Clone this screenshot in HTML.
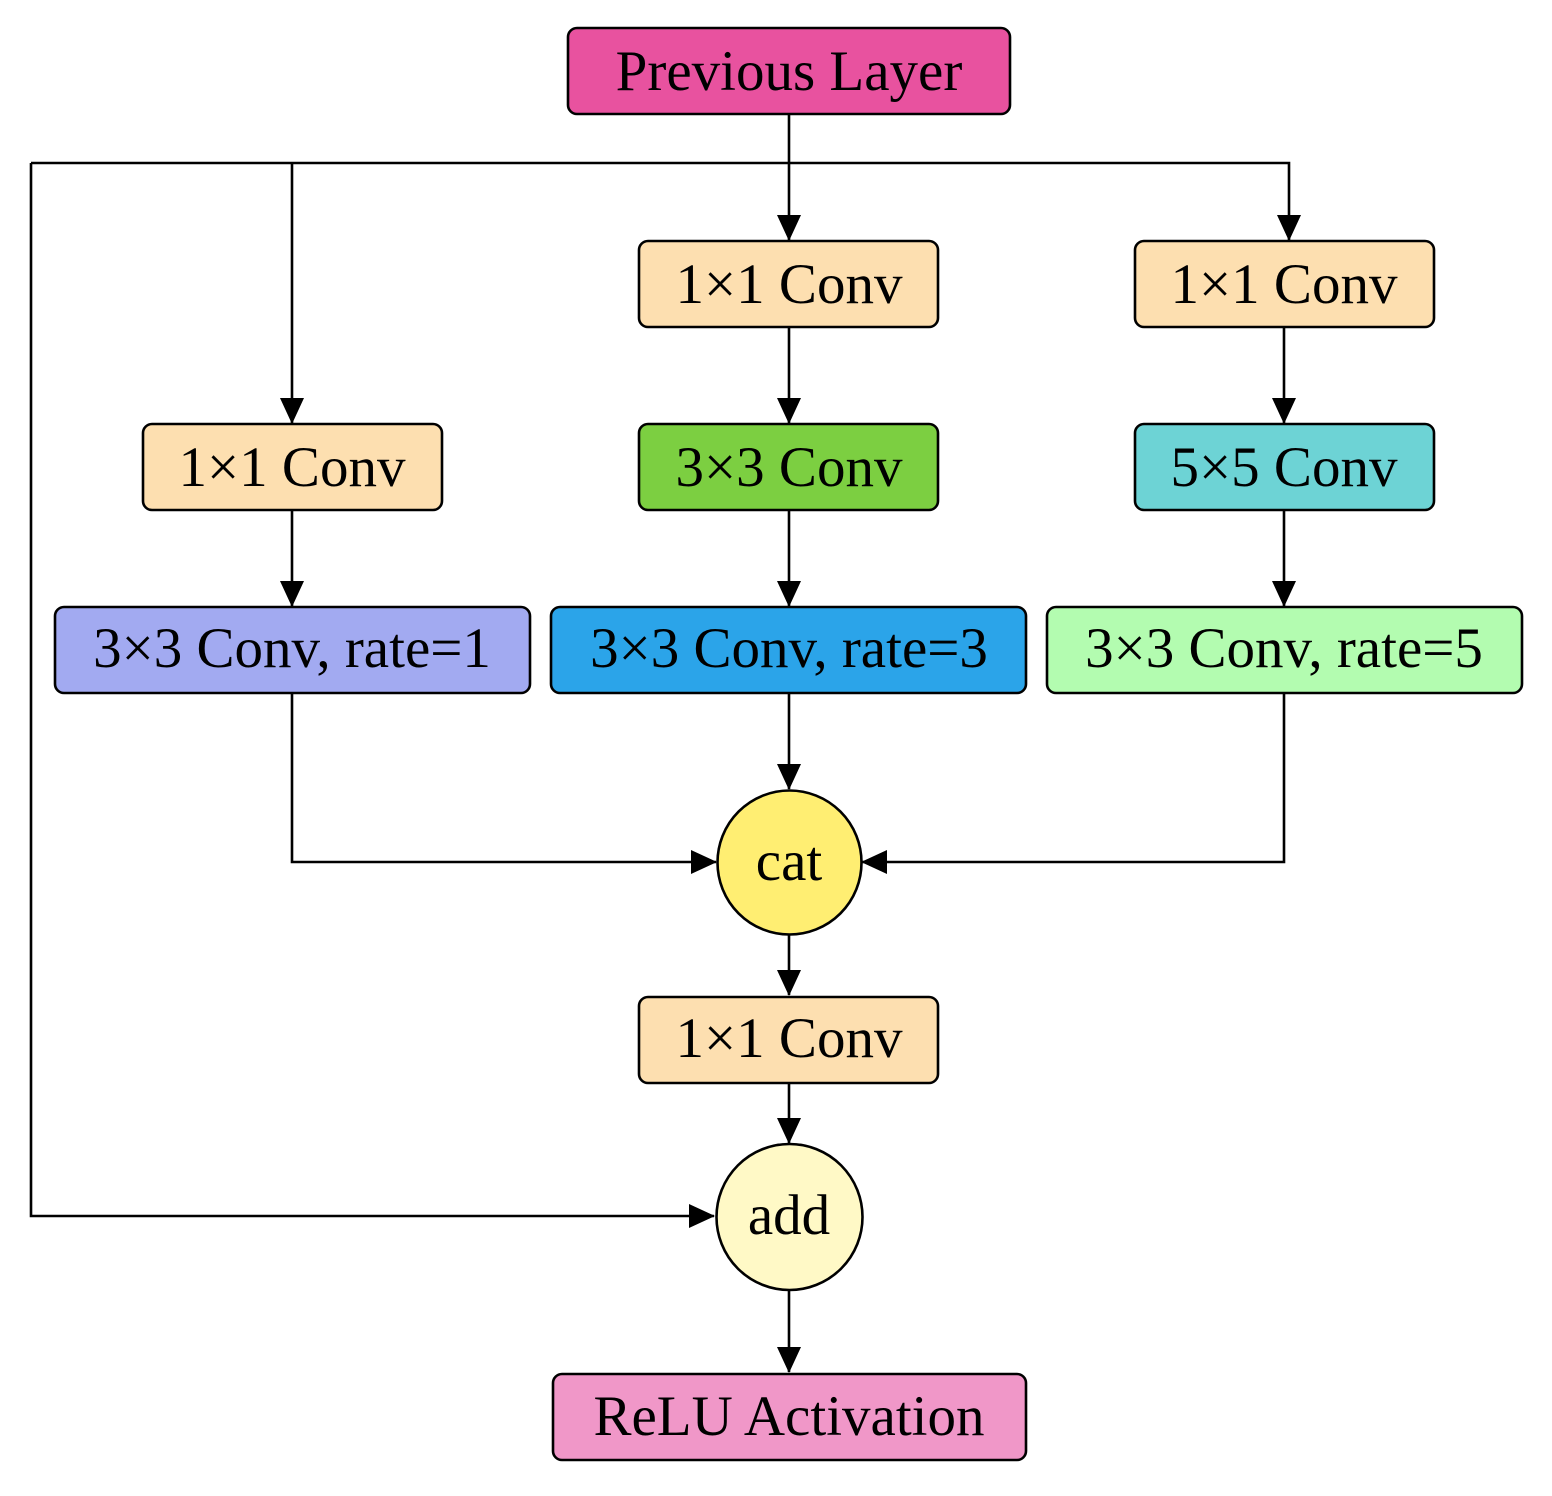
<!DOCTYPE html>
<html><head><meta charset="utf-8"><style>
html,body{margin:0;padding:0;background:#fff;}
svg{display:block;}
text{font-family:"Liberation Serif",serif;font-size:57px;fill:#000;text-anchor:middle;}
</style></head><body>
<svg width="1552" height="1496" viewBox="0 0 1552 1496" xmlns="http://www.w3.org/2000/svg">
<defs>
<marker id="a" markerWidth="26" markerHeight="24" refX="25" refY="12" orient="auto" markerUnits="userSpaceOnUse">
<path d="M0,0 L26,12 L0,24 Z" fill="#000"/>
</marker>
</defs>
<g stroke="#000" stroke-width="2.6" fill="none">
<!-- top distribution -->
<line x1="789" y1="114" x2="789" y2="240" marker-end="url(#a)"/>
<polyline points="31,163 1289,163 1289,240" marker-end="url(#a)"/>
<line x1="292" y1="163" x2="292" y2="423" marker-end="url(#a)"/>
<polyline points="31,163 31,1216 714,1216" marker-end="url(#a)"/>
<!-- middle column -->
<line x1="789" y1="327" x2="789" y2="423" marker-end="url(#a)"/>
<line x1="789" y1="510" x2="789" y2="606" marker-end="url(#a)"/>
<line x1="789" y1="693" x2="789" y2="789" marker-end="url(#a)"/>
<!-- right column -->
<line x1="1284" y1="327" x2="1284" y2="423" marker-end="url(#a)"/>
<line x1="1284" y1="510" x2="1284" y2="606" marker-end="url(#a)"/>
<polyline points="1284,693 1284,862 862,862" marker-end="url(#a)"/>
<!-- left column -->
<line x1="292" y1="510" x2="292" y2="606" marker-end="url(#a)"/>
<polyline points="292,693 292,862 716,862" marker-end="url(#a)"/>
<!-- bottom -->
<line x1="789" y1="935" x2="789" y2="995" marker-end="url(#a)"/>
<line x1="789" y1="1084" x2="789" y2="1143" marker-end="url(#a)"/>
<line x1="789" y1="1290" x2="789" y2="1372" marker-end="url(#a)"/>
</g>
<g stroke="#000" stroke-width="2.6">
<rect x="568" y="28" width="442" height="86" rx="9" fill="#E8529F"/>
<rect x="639" y="241" width="299" height="86" rx="9" fill="#FDDFB0"/>
<rect x="1135" y="241" width="299" height="86" rx="9" fill="#FDDFB0"/>
<rect x="143" y="424" width="299" height="86" rx="9" fill="#FDDFB0"/>
<rect x="639" y="424" width="299" height="86" rx="9" fill="#7CCF41"/>
<rect x="1135" y="424" width="299" height="86" rx="9" fill="#6DD3D5"/>
<rect x="55" y="607" width="475" height="86" rx="9" fill="#A2AAF1"/>
<rect x="551" y="607" width="475" height="86" rx="9" fill="#2BA4E9"/>
<rect x="1047" y="607" width="475" height="86" rx="9" fill="#B3FCB0"/>
<circle cx="789.5" cy="862.5" r="72" fill="#FFEE72"/>
<rect x="639" y="997" width="299" height="86" rx="9" fill="#FDDFB0"/>
<circle cx="789.5" cy="1217" r="73" fill="#FFF9C6"/>
<rect x="553" y="1374" width="473" height="86" rx="9" fill="#F097C8"/>
</g>
<text x="789" y="90">Previous Layer</text>
<text x="789" y="303">1×1 Conv</text>
<text x="1284" y="303">1×1 Conv</text>
<text x="292" y="486">1×1 Conv</text>
<text x="789" y="486">3×3 Conv</text>
<text x="1284" y="486">5×5 Conv</text>
<text x="292" y="667">3×3 Conv, rate=1</text>
<text x="789" y="667">3×3 Conv, rate=3</text>
<text x="1284" y="667">3×3 Conv, rate=5</text>
<text x="789" y="880">cat</text>
<text x="789" y="1057">1×1 Conv</text>
<text x="789" y="1234">add</text>
<text x="789" y="1435">ReLU Activation</text>
</svg>
</body></html>
